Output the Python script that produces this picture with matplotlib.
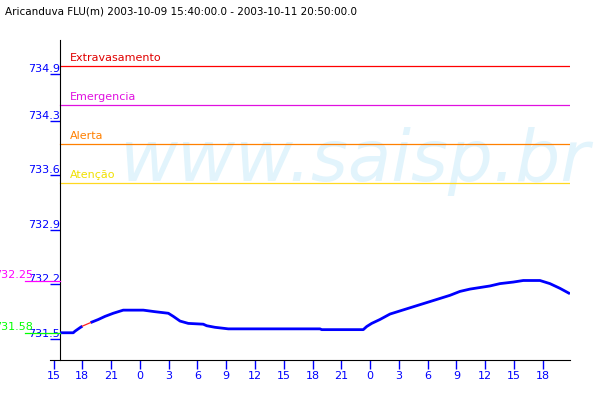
import matplotlib
matplotlib.use("Agg")
import matplotlib.pyplot as plt
import numpy as np

# hours counted from 2003-10-09 00:00
t_start, t_end = 15 + 40 / 60, 48 + 20 + 50 / 60

hours = [15.67, 17.05, 17.23, 17.75, 18.00, np.nan, 18.85, 19.66, 20.36, 21.22,
         22.26, 24.35, 25.57, 26.96, 27.48, 28.18, 29.04, 30.60, 30.96, 31.82,
         33.21, 42.77, 42.95, 47.28, 47.64, 48.16, 49.02, 50.07, 51.11, 52.15,
         53.19, 54.24, 55.28, 56.32, 57.36, 58.41, 59.45, 60.49, 61.53, 62.92,
         63.96, 65.70, 66.74, 67.78, 68.83]
levels = [731.58, 731.58, 731.60, 731.645, 731.665, np.nan, 731.71, 731.75, 731.79, 731.83,
          731.87, 731.87, 731.85, 731.83, 731.79, 731.73, 731.70, 731.69, 731.67, 731.65,
          731.63, 731.63, 731.62, 731.62, 731.66, 731.70, 731.75, 731.82, 731.86, 731.90,
          731.94, 731.98, 732.02, 732.06, 732.11, 732.14, 732.16, 732.18, 732.21, 732.23,
          732.25, 732.25, 732.21, 732.15, 732.08]

# stretch without readings, drawn in red
gap_hours = [18.00, 18.85]
gap_levels = [731.665, 731.71]

limit_names = ["Extravasamento", "Emergencia", "Alerta", "Atenção"]
limit_values = [735.0, 734.5, 734.0, 733.5]
limit_colors = ["#ff0000", "#e010e0", "#ff8000", "#ffd820"]
limit_text_colors = ["#e00000", "#e010e0", "#ff8000", "#f0e000"]

ytick_values = [731.5, 732.2, 732.9, 733.6, 734.3, 734.9]
ytick_labels = ["731.5", "732.2", "732.9", "733.6", "734.3", "734.9"]
xtick_hours = list(range(15, 67, 3))
xtick_labels = [str(h % 24) for h in xtick_hours]

max_level, min_level = 732.25, 731.58

blue = "#0000ff"

fig = plt.figure(figsize=(6, 4), dpi=100)
ax = fig.add_axes([50 / 600, 40 / 400, 520 / 600, 320 / 400])

ax.text(120 / 600, (400 - 181) / 400, "www.saisp.br", transform=fig.transFigure,
        fontsize=51, style="oblique", color="#e2f4fc", ha="left", va="baseline",
        zorder=0)

for name, val, c, tc in zip(limit_names, limit_values, limit_colors, limit_text_colors):
    ax.plot([t_start, t_end], [val, val], color=c, lw=0.9, zorder=2)
    ax.text(t_start + 1.05, val + 0.04, name, color=tc, fontsize=8, va="bottom", ha="left")

ax.plot(hours, levels, color=blue, lw=2.0, solid_capstyle="butt", zorder=3)
ax.plot(gap_hours, gap_levels, color="#ff2020", lw=0.9, zorder=3)

# max / min markers on the left margin
ytr = ax.get_yaxis_transform()
for val, c in [(max_level, "#ff00ff"), (min_level, "#00ff00")]:
    ax.plot([-0.048, 0.0192], [val, val], color=c, lw=0.9, transform=ytr, clip_on=False, zorder=4)
    ax.text(-0.033, val + 0.01, f"{val:.2f}", color=c, fontsize=8, ha="right", va="bottom",
            transform=ytr, clip_on=False)

ax.set_xlim(15.667 - 10 * 0.10424, t_end)
ax.set_ylim(731.5 - 21 / 78, 731.5 + 299 / 78)

ax.spines["top"].set_visible(False)
ax.spines["right"].set_visible(False)
ax.spines["left"].set_position(("data", t_start))
ax.spines["left"].set_color("black")
ax.spines["bottom"].set_color("black")

ax.set_xticks(xtick_hours)
ax.set_xticklabels(xtick_labels)
ax.set_yticks(ytick_values)
ax.set_yticklabels(ytick_labels)
ax.tick_params(axis="x", direction="out", length=6.5, width=1, color=blue,
               labelcolor=blue, labelsize=8, pad=1.5)
ax.tick_params(axis="y", direction="out", length=7.2, width=1, color=blue,
               labelcolor=blue, labelsize=8, pad=-7.2)
for lab in ax.get_yticklabels():
    lab.set_va("bottom")
    lab.set_zorder(5)

fig.text(5 / 600, (400 - 11) / 400,
         "Aricanduva FLU(m) 2003-10-09 15:40:00.0 - 2003-10-11 20:50:00.0",
         fontsize=7.5, color="black", ha="left", va="center")

fig.savefig("out.png", dpi=100)
